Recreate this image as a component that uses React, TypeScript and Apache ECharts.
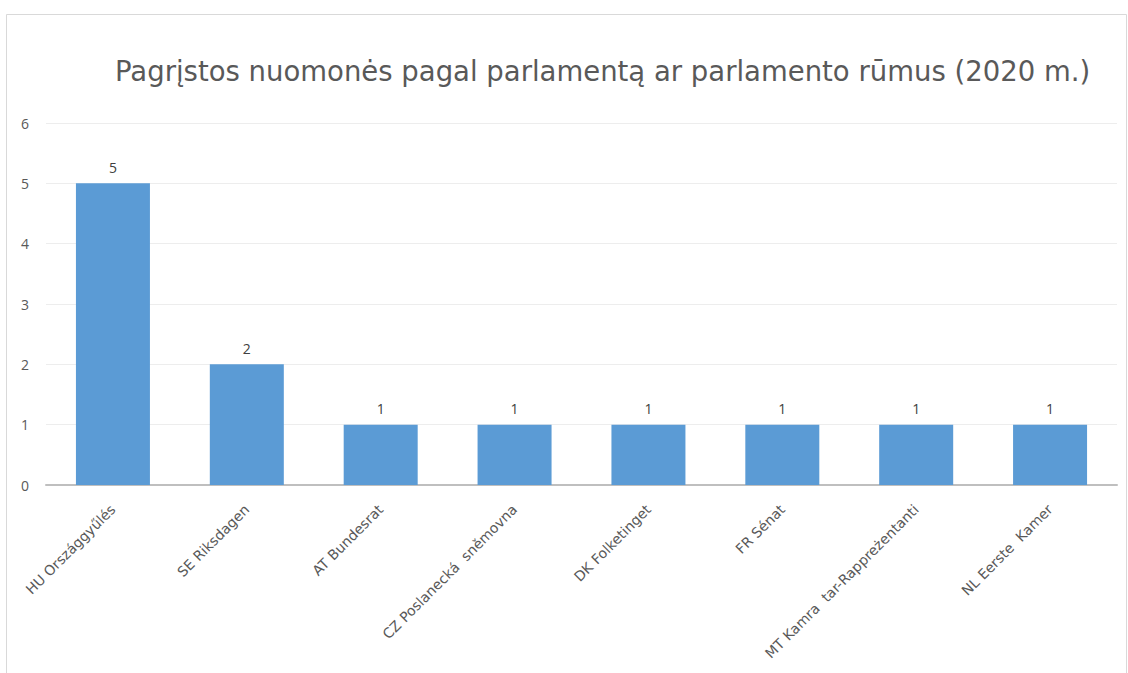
import React, { useEffect, useRef } from "react";
import * as echarts from "echarts";

const titleText = "Pagrįstos nuomonės pagal parlamentą ar parlamento rūmus (2020 m.)";
const categories = [
  "HU Országgyűlés",
  "SE Riksdagen",
  "AT Bundesrat",
  "CZ Poslanecká  sněmovna",
  "DK Folketinget",
  "FR Sénat",
  "MT Kamra  tar-Rappreżentanti",
  "NL Eerste  Kamer",
];
const values = [5, 2, 1, 1, 1, 1, 1, 1];
const yTicks = { min: 0, max: 6, interval: 1 };

const FONT = "'Open Sans', 'Noto Sans', sans-serif";
const WIDE = "'DejaVu Sans', 'Open Sans', sans-serif";
const GREY = "#595959";

export default function App() {
  const ref = useRef<HTMLDivElement>(null);
  useEffect(() => {
    if (!ref.current) return;
    const chart = echarts.init(ref.current, undefined, { renderer: "svg" });
    chart.setOption({
      animation: false,
      backgroundColor: "#ffffff",
      textStyle: { fontFamily: FONT },
      title: {
        text: titleText,
        left: 110,
        top: 52,
        textStyle: { fontFamily: WIDE, fontSize: 27.5, fontWeight: "normal", color: GREY },
      },
      graphic: [
        {
          type: "rect",
          shape: { x: 6.5, y: 14.5, width: 1120, height: 700 },
          style: { fill: "none", stroke: "#d9d9d9", lineWidth: 1 },
          silent: true,
        },
      ],
      grid: { left: 46, right: 11, top: 123, bottom: 188, containLabel: false },
      xAxis: {
        type: "category",
        data: categories,
        axisLine: { show: true, lineStyle: { color: "#bfbfbf", width: 2 } },
        axisTick: { show: false },
        axisLabel: {
          interval: 0,
          rotate: 45,
          margin: 22,
          fontFamily: WIDE,
          fontSize: 14,
          color: GREY,
        },
      },
      yAxis: {
        type: "value",
        min: yTicks.min,
        max: yTicks.max,
        interval: yTicks.interval,
        axisLine: { show: false },
        axisTick: { show: false },
        splitLine: { lineStyle: { color: "#ededed", width: 1 } },
        axisLabel: { margin: 17, fontFamily: FONT, fontSize: 14, color: GREY },
      },
      series: [
        {
          type: "bar",
          data: values,
          barWidth: 74,
          itemStyle: { color: "#5b9bd5" },
          label: {
            show: true,
            position: "top",
            distance: 9,
            fontFamily: FONT,
            fontSize: 14,
            color: "#404040",
          },
        },
      ],
    });
    return () => chart.dispose();
  }, []);
  return (
    <div
      ref={ref}
      style={{ position: "fixed", left: 0, top: 0, width: 1128, height: 673 }}
    />
  );
}
